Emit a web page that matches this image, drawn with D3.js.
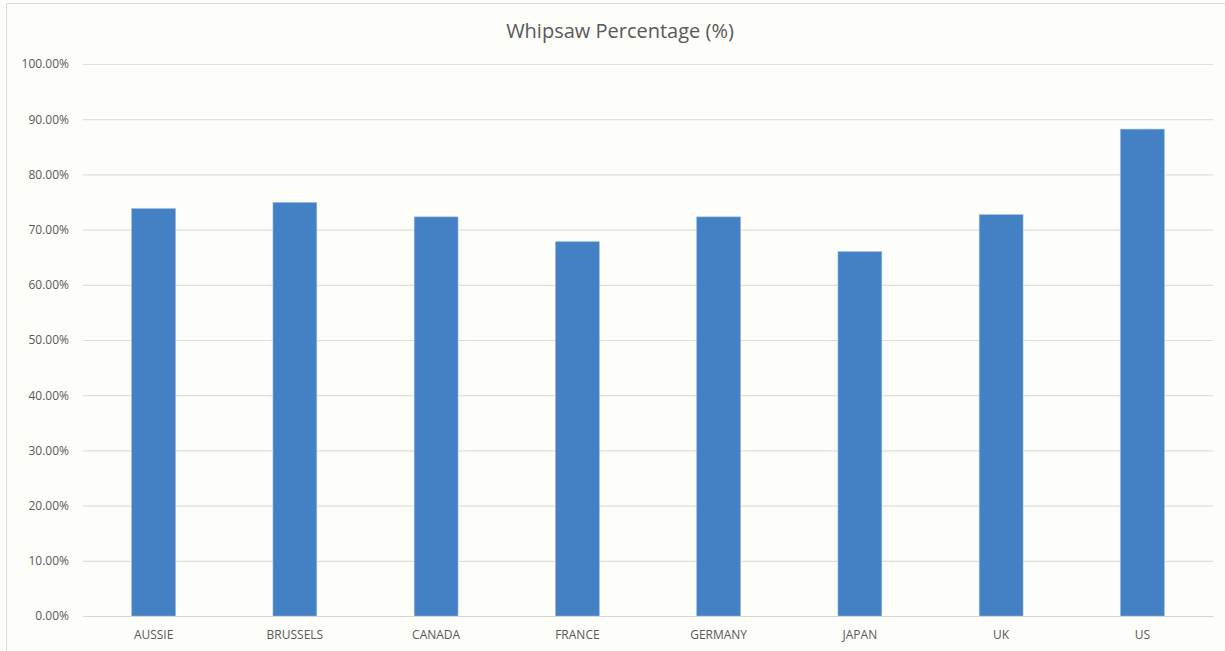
<!DOCTYPE html>
<html>
<head>
<meta charset="utf-8">
<script src="https://cdn.jsdelivr.net/npm/d3@7"></script>
<style>
  html, body { margin: 0; padding: 0; background: #fdfdf9; }
  #chart { width: 1225px; height: 651px; }
  text { font-family: "Open Sans", "Liberation Sans", sans-serif; fill: #595959; }
</style>
</head>
<body>
<div id="chart"></div>
<script>
'use strict';

// Data
var categories = ['AUSSIE', 'BRUSSELS', 'CANADA', 'FRANCE', 'GERMANY', 'JAPAN', 'UK', 'US']
var whipsaw = [0.738, 0.749, 0.723, 0.678, 0.723, 0.660, 0.727, 0.882]
var yTicks = [0, 0.1, 0.2, 0.3, 0.4, 0.5, 0.6, 0.7, 0.8, 0.9, 1.0]
var title = 'Whipsaw Percentage (%)'

var W = 1225, H = 651
var margin = {top: 64, right: 12, bottom: 35, left: 83}
var width = W - margin.left - margin.right
var height = H - margin.top - margin.bottom

var svg = d3.select('#chart').append('svg')
  .attr('width', W)
  .attr('height', H)

// outer chart frame (only top/left visible in the crop)
svg.append('path')
  .attr('d', 'M6.5,' + H + 'V3.5H' + W)
  .style('fill', 'none')
  .style('stroke', '#d9d9d9')
  .style('stroke-width', 1)

svg.append('text')
  .attr('x', 620)
  .attr('y', 38)
  .style('text-anchor', 'middle')
  .style('font-size', '20px')
  .text(title)

var g = svg.append('g')
  .attr('transform', 'translate(' + margin.left + ',' + margin.top + ')')

var x = d3.scaleBand()
  .domain(categories)
  .range([0, width])
  .paddingInner(0.69)
  .paddingOuter(0.345)

var y = d3.scaleLinear()
  .domain([0, 1])
  .range([height, 0])

// gridlines + y labels
var yAxis = d3.axisLeft(y)
  .tickValues(yTicks)
  .tickSize(-width)
  .tickPadding(14)
  .tickFormat(d3.format('.2%'))

g.append('g')
    .attr('class', 'axis axis--y')
    .call(yAxis)
    .call(function(a){
      a.select('.domain').remove()
      a.selectAll('line').style('stroke', '#dfdfdb').style('stroke-width', 1.2)
      a.selectAll('text').style('font-size', '12px').style('fill', '#595959')
    })

g.selectAll('.bar')
  .data(whipsaw)
  .enter().append('rect')
    .attr('class', 'bar')
    .attr('x', function(d, i) { return x(categories[i]) })
    .attr('y', function(d) { return y(d) })
    .attr('width', x.bandwidth())
    .attr('height', function(d) { return height - y(d) })
    .style('fill', '#4381c4')
    .style('stroke', '#8fb4e0')
    .style('stroke-width', 0.6)

var xAxis = d3.axisBottom(x)
  .tickSize(0)
  .tickPadding(14)

g.append('g')
    .attr('class', 'axis axis--x')
    .attr('transform', 'translate(0,' + height + ')')
    .call(xAxis)
    .call(function(a){
      a.select('.domain').style('stroke', '#d6d6d2').style('stroke-width', 1.2)
      a.selectAll('text').style('font-size', '12px').style('fill', '#595959')
    })
</script>
</body>
</html>
